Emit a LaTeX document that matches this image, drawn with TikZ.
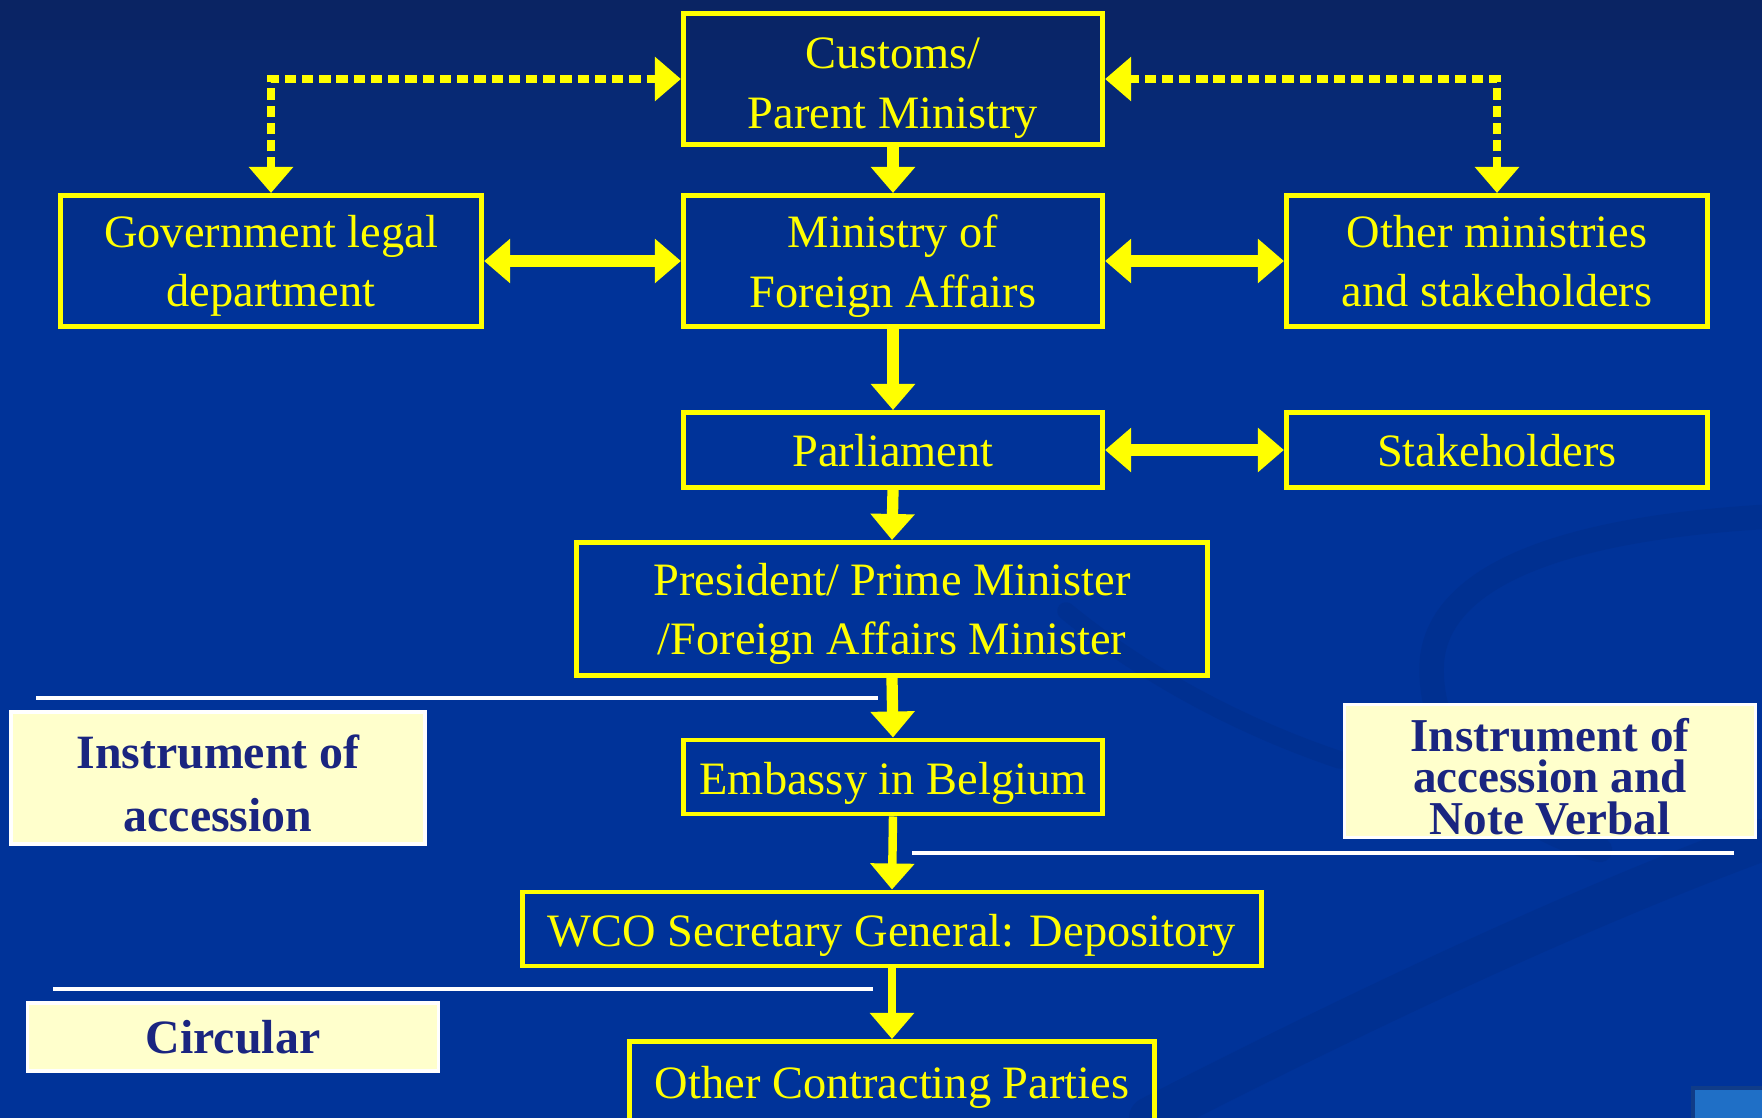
\documentclass[tikz,border=0pt]{standalone}
\usepackage{fontspec}
\setmainfont{Liberation Serif}
\usetikzlibrary{arrows.meta}
\definecolor{bgblue}{HTML}{003399}
\definecolor{bgtop}{HTML}{0A2463}
\definecolor{yel}{HTML}{FFFF00}
\definecolor{cream}{HTML}{FFFFCC}
\definecolor{navy}{HTML}{1A2580}
\definecolor{swoosh}{HTML}{002A80}
\definecolor{tile}{HTML}{1F6FC6}
\definecolor{tileedge}{HTML}{103C88}
\begin{document}
\begin{tikzpicture}[x=0.01cm,y=-0.01cm,
  ybox/.style={draw=yel, line width=1.4pt, text=yel, align=center, inner sep=0pt, text depth=0pt,
    font=\fontsize{13.2pt}{16.9pt}\selectfont},
  cbox/.style={draw=white, line width=1pt, fill=cream, text=navy, align=center, inner sep=0pt,
    font=\bfseries\fontsize{13.6pt}{17.9pt}\selectfont},
  arr/.style={draw=yel, line width=3.2pt, -{Triangle[length=7.4pt,width=12.2pt]}},
  arrthin/.style={draw=yel, line width=2.4pt, -{Triangle[length=7.4pt,width=12.2pt]}},
  dblarr/.style={draw=yel, line width=3.2pt, {Triangle[length=7.4pt,width=12.2pt]}-{Triangle[length=7.4pt,width=12.2pt]}},
  dasharr/.style={draw=yel, line width=2.3pt, dash pattern=on 3.2pt off 1.7pt,
    {Triangle[length=7.4pt,width=12.2pt]}-{Triangle[length=7.4pt,width=12.2pt]}},
  sep/.style={draw=white, line width=1.4pt},
  swooshline/.style={draw=swoosh, opacity=0.3, line cap=round}
]
\useasboundingbox (0,0) rectangle (1762,1118);
\clip (0,0) rectangle (1762,1118);
% background
\fill[bgblue] (0,0) rectangle (1762,1118);
\foreach \i in {0,...,29} {
  \pgfmathtruncatemacro\p{100*\i/29}
  \fill[bgblue!\p!bgtop] (0,\i*10) rectangle (1762,\i*10+11);
}
% faint background swooshes
\draw[swooshline, line width=7pt] (1762,517) .. controls (1550,530) and (1440,580) .. (1432,660) .. controls (1425,760) and (1520,830) .. (1600,850);
\draw[swooshline, line width=5pt] (1066,611) .. controls (1150,680) and (1250,730) .. (1340,760);
\draw[swooshline, line width=12pt] (1150,1118) .. controls (1400,990) and (1600,900) .. (1762,840);

% yellow boxes
\node[ybox, text height=28.1pt, minimum width=4.19cm, minimum height=1.31cm] (cust) at (893,79) {Customs/\\Parent Ministry};
\node[ybox, minimum width=4.21cm, minimum height=1.31cm] (gov) at (271,261) {Government legal\\department};
\node[ybox, minimum width=4.19cm, minimum height=1.31cm] (mofa) at (893,261) {Ministry of\\Foreign Affairs};
\node[ybox, minimum width=4.21cm, minimum height=1.31cm] (other) at (1497,261) {Other ministries\\and stakeholders};
\node[ybox, minimum width=4.19cm, minimum height=0.75cm] (parl) at (893,450) {Parliament};
\node[ybox, minimum width=4.21cm, minimum height=0.75cm] (stake) at (1497,450) {Stakeholders};
\node[ybox, minimum width=6.31cm, minimum height=1.33cm] (pres) at (892,609) {President/ Prime Minister\\/Foreign Affairs Minister};
\node[ybox, text height=10.2pt, minimum width=4.19cm, minimum height=0.74cm] (emb) at (893,777) {Embassy in Belgium};
\node[ybox, text height=10.2pt, minimum width=7.39cm, minimum height=0.74cm] (wco) at (892,929) {WCO Secretary General: Depository};
\node[ybox, minimum width=5.25cm, minimum height=0.81cm] (ocp) at (892,1082) {Other Contracting Parties};

% cream boxes
\node[cbox, text height=30.5pt, text depth=0pt, minimum width=4.14cm, minimum height=1.32cm] (inst1) at (218,778) {Instrument of\\accession};
\node[cbox, text height=36.1pt, text depth=0pt, minimum width=4.11cm, minimum height=1.33cm,
  font=\bfseries\fontsize{13.4pt}{11.8pt}\selectfont] (inst2) at (1550,771) {Instrument of\\accession and\\Note Verbal};
\node[cbox, minimum width=4.11cm, minimum height=0.68cm] (circ) at (233,1037) {Circular};

% separator lines
\coordinate (s1a) at (36,698);  \coordinate (s1b) at (878,698);
\coordinate (s2a) at (912,853); \coordinate (s2b) at (1734,853);
\coordinate (s3a) at (53,989);  \coordinate (s3b) at (873,989);
\draw[sep] (s1a) -- (s1b);
\draw[sep] (s2a) -- (s2b);
\draw[sep] (s3a) -- (s3b);

% connectors
\draw[dasharr] (gov.north) |- (cust.west);
\draw[dasharr] (other.north) |- (cust.east);
\draw[arr] (cust.south) -- (mofa.north);
\draw[dblarr] (gov.east) -- (mofa.west);
\draw[dblarr] (mofa.east) -- (other.west);
\draw[arr] (mofa.south) -- (parl.north);
\draw[dblarr] (parl.east) -- (stake.west);
\draw[arr] (parl.south) -- (pres.north);
\draw[arr] (pres.south) -- (emb.north);
\draw[arrthin] (emb.south) -- (wco.north);
\draw[arrthin] (wco.south) -- (ocp.north);

% corner tile
\fill[tile, draw=tileedge, line width=1pt] (1693,1088) rectangle (1770,1125);
\end{tikzpicture}
\end{document}
